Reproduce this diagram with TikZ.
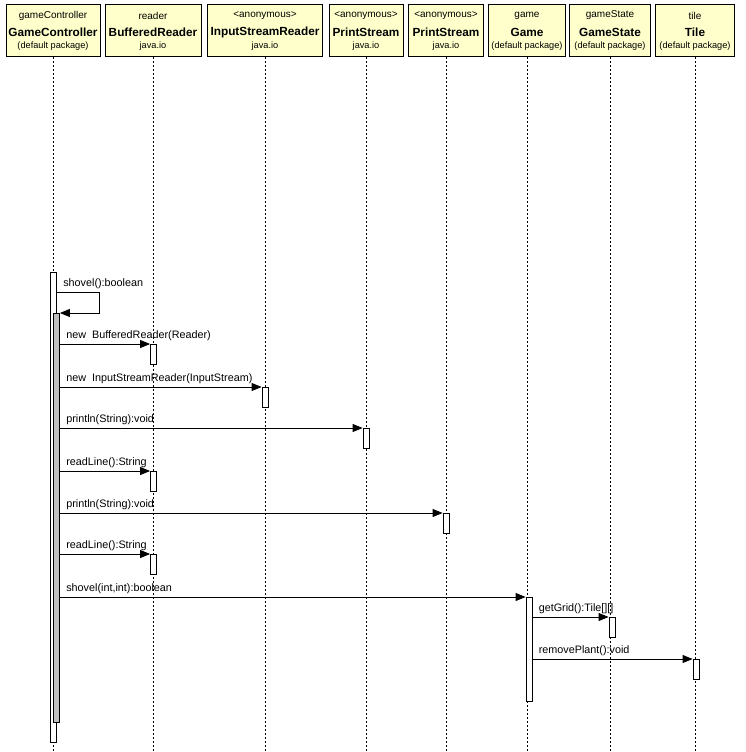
\documentclass[tikz,border=0pt]{standalone}
\usepackage{fontspec}
\setmainfont{Liberation Sans}
\usetikzlibrary{arrows.meta,positioning}

\definecolor{objfill}{RGB}{255,255,204}
\definecolor{nestfill}{RGB}{192,192,192}

\begin{document}
\begin{tikzpicture}[x=1pt,y=-1pt,
		objbox/.style={draw,fill=objfill,line width=.8pt,minimum height=52pt,inner sep=0pt,anchor=north},
		lifeline/.style={line width=.6pt,dash pattern=on 2pt off 2pt},
		actbar/.style={draw,fill=white,line width=.8pt,minimum width=6pt,inner sep=0pt,anchor=north},
		msg/.style={-{Triangle[length=10pt,width=8pt]},line width=.8pt},
		msglabel/.style={anchor=base west,inner sep=0pt,xshift=6pt,yshift=6pt,font=\fontsize{10.8}{12}\selectfont}]
		\useasboundingbox (0,0) rectangle (745,752);
		% objects and their lifelines
		\foreach \id/\x/\w/\role/\cls/\pkg in {
				ctrl/53/94/gameController/GameController/(default package),
				rdr/153/96/reader/BufferedReader/java.io,
				isr/265/115/<anonymous>/InputStreamReader/java.io,
				psa/366/74/<anonymous>/PrintStream/java.io,
				psb/446/75/<anonymous>/PrintStream/java.io,
				game/527/77/game/Game/(default package),
				gstate/610/81/gameState/GameState/(default package),
				tile/695/79/tile/Tile/(default package)}
		{
			\node[objbox,minimum width=\w pt] (\id) at (\x,4) {};
			\node[font=\fontsize{10}{12}\selectfont] at (\x,15.5) {\role};
			\node[font=\fontsize{11.8}{14}\selectfont\bfseries] at (\x,32) {\cls};
			\node[font=\fontsize{9.2}{11}\selectfont] at (\x,46.5) {\pkg};
			\draw[lifeline] (\id.south) -- (\id.south |- 0,752);
		}
		% activations
		\node[actbar,minimum height=470pt] (ctrlA) at (53.5,272) {};
		\node[actbar,fill=nestfill,minimum height=409pt] (ctrlB) at (56.5,313) {};
		\node[actbar,minimum height=20pt] (rdA) at (153.5,344) {};
		\node[actbar,minimum height=20pt] (isrA) at (265,387) {};
		\node[actbar,minimum height=20pt] (psaA) at (366,428) {};
		\node[actbar,minimum height=20pt] (rdB) at (153.5,471) {};
		\node[actbar,minimum height=20pt] (psbA) at (446,513) {};
		\node[actbar,minimum height=20pt] (rdC) at (153.5,554) {};
		\node[actbar,minimum height=104pt] (gameA) at (529,597) {};
		\node[actbar,minimum height=20pt] (gstateA) at (612,617) {};
		\node[actbar,minimum height=20pt] (tileA) at (696,659) {};
		% messages
		\draw[msg] (ctrlA.north east) ++(0,20) node[msglabel] {shovel():boolean} -- ++(42,0) |- (ctrlB.north east);
		\draw[msg] (rdA.north west -| ctrlB.east) node[msglabel] {new\ \ BufferedReader(Reader)} -- (rdA.north west);
		\draw[msg] (isrA.north west -| ctrlB.east) node[msglabel] {new\ \ InputStreamReader(InputStream)} -- (isrA.north west);
		\draw[msg] (psaA.north west -| ctrlB.east) node[msglabel] {println(String):void} -- (psaA.north west);
		\draw[msg] (rdB.north west -| ctrlB.east) node[msglabel] {readLine():String} -- (rdB.north west);
		\draw[msg] (psbA.north west -| ctrlB.east) node[msglabel] {println(String):void} -- (psbA.north west);
		\draw[msg] (rdC.north west -| ctrlB.east) node[msglabel] {readLine():String} -- (rdC.north west);
		\draw[msg] (gameA.north west -| ctrlB.east) node[msglabel] {shovel(int,int):boolean} -- (gameA.north west);
		\draw[msg] (gstateA.north west -| gameA.east) node[msglabel] {getGrid():Tile[][]} -- (gstateA.north west);
		\draw[msg] (tileA.north west -| gameA.east) node[msglabel] {removePlant():void} -- (tileA.north west);
	\end{tikzpicture}
\end{document}
